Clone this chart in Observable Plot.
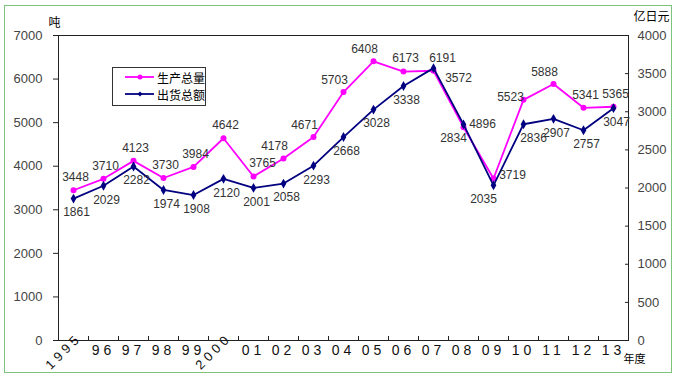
<!DOCTYPE html>
<html><head><meta charset="utf-8">
<script src="https://cdn.jsdelivr.net/npm/d3@7"></script>
<script src="https://cdn.jsdelivr.net/npm/@observablehq/plot@0.6"></script>
<style>
body{margin:0;background:#fff;}
#wrap{position:relative;width:677px;height:378px;font-family:"Liberation Sans",Arial,sans-serif;}
#border{position:absolute;left:4px;top:5px;width:668px;height:368px;border:1.5px solid #7cc47c;box-sizing:border-box;pointer-events:none}
#legend{position:absolute;left:112px;top:67px;width:94px;height:39px;border:1px solid #333;background:#fff;box-sizing:border-box;font-family:"Noto Sans CJK SC",sans-serif;font-size:12px;color:#000}
#legend .row{position:absolute;left:11px;height:16px;display:flex;align-items:center;white-space:nowrap}
#legend svg{display:block;margin-right:3px}
svg g[aria-label="x-axis tick label"] text{letter-spacing:4px}
</style></head>
<body>
<div id="wrap"><div id="chart"></div>
<div id="legend"></div>
<div id="border"></div></div>
<script>
const years = d3.range(1995, 2014);
const xLabels = ["1995","96","97","98","99","2000","01","02","03","04","05","06","07","08","09","10","11","12","13"];
const production = [3448,3710,4123,3730,3984,4642,3765,4178,4671,5703,6408,6173,6191,4896,3719,5523,5888,5341,5365];
const shipments = [1861,2029,2282,1974,1908,2120,2001,2058,2293,2668,3028,3338,3572,2834,2035,2836,2907,2757,3047];
const seriesNames = ["生产总量","出货总额"];
const leftTicks = d3.range(0, 7001, 1000);
const rightTicks = d3.range(0, 4001, 500);

const ratio = 7000 / 4000;
const data = years.map((y, i) => ({year: y, label: xLabels[i], prod: production[i], ship: shipments[i], shipY: shipments[i] * ratio}));
const MAG = "#ff00ff", NAVY = "#000080";

function labels(field, yField, ys, dx, dy) {
  return Plot.text(data.filter(d => ys.includes(d.year)), {
    x: "year", y: yField, text: d => String(d[field]), dx, dy,
    fontSize: 12, fill: "#333", fontFamily: "Liberation Sans, Arial, sans-serif"
  });
}

const chart = Plot.plot({
  width: 677, height: 378,
  marginLeft: 58, marginRight: 49, marginTop: 35, marginBottom: 38,
  style: {background: "transparent", fontFamily: "Liberation Sans, Arial, sans-serif", overflow: "visible"},
  x: {domain: [1994.5, 2013.5]},
  y: {domain: [0, 7000]},
  marks: [
    Plot.frame({stroke: "#222"}),
    Plot.axisY({anchor: "left", ticks: leftTicks, tickFormat: d => String(d), tickSize: 5, tickPadding: 11, fontSize: 13, fill: "#444", stroke: "#222", label: null}),
    Plot.axisY({anchor: "right", ticks: rightTicks.map(v => v * ratio), tickFormat: d => String(Math.round(d / ratio)), tickSize: 0, tickPadding: 9, fontSize: 13, fill: "#444", label: null}),
    Plot.axisY({anchor: "right", ticks: rightTicks.map(v => v * ratio), tickSize: 4, text: null, dx: -4, stroke: "#222", label: null}),
    Plot.axisX({ticks: d3.range(1995.5, 2013, 1), tickSize: 4, text: null, dy: -4, stroke: "#222", label: null}),
    Plot.axisX({ticks: years.filter(y => y !== 1995 && y !== 2000), tickFormat: d => xLabels[years.indexOf(d)], tickSize: 0, tickPadding: 5, fontSize: 14, fill: "#111", label: null}),
    Plot.axisX({ticks: [1995, 2000], tickFormat: d => xLabels[years.indexOf(d)], tickSize: 0, tickPadding: 0, tickRotate: -45, fontSize: 13, fill: "#111", label: null, dx: 6, dy: -5}),
    Plot.text(["吨"], {text: d => d, frameAnchor: "top-left", textAnchor: "start", lineAnchor: "top", dx: -10, dy: -17, fontSize: 12, fill: "#000", fontFamily: "Noto Sans CJK SC"}),
    Plot.text(["亿日元"], {text: d => d, frameAnchor: "top-right", textAnchor: "start", lineAnchor: "top", dx: 5, dy: -23, fontSize: 12, fill: "#000", fontFamily: "Noto Sans CJK SC"}),
    Plot.text(["年度"], {text: d => d, frameAnchor: "bottom-right", textAnchor: "start", lineAnchor: "top", dx: -5, dy: 15, fontSize: 11, fill: "#000", fontFamily: "Noto Sans CJK SC"}),
    Plot.line(data, {x: "year", y: "prod", stroke: MAG, strokeWidth: 1.8}),
    Plot.dot(data, {x: "year", y: "prod", r: 3, fill: MAG, stroke: "none"}),
    Plot.line(data, {x: "year", y: "shipY", stroke: NAVY, strokeWidth: 1.8}),
    Plot.dot(data, {x: "year", y: "shipY", r: 3, symbol: "diamond", fill: NAVY, stroke: "none"}),
    labels("prod", "prod", [1995,1996,1997,1998,1999,2000,2006,2012,2013], 2, -13),
    labels("prod", "prod", [2002,2003,2004,2005,2011], -9, -12),
    labels("prod", "prod", [2001,2007], 9, -13),
    labels("prod", "prod", [2008,2009], 19, -3),
    labels("prod", "prod", [2010], -13, -3),
    labels("ship", "shipY", [1995,1996,1997,1998,1999,2000,2001,2002,2003,2004,2005,2006,2011,2012,2013], 3, 14),
    labels("ship", "shipY", [2007], 25, 10),
    labels("ship", "shipY", [2008,2009], -10, 14),
    labels("ship", "shipY", [2010], 10, 14)
  ]
});
document.getElementById("chart").appendChild(chart);

const lg = document.getElementById("legend");
[[MAG, "circle"], [NAVY, "diamond"]].forEach(([c, s], i) => {
  const row = document.createElement("div");
  row.className = "row";
  row.style.top = (i === 0 ? 1 : 18) + "px";
  const mk = s === "circle" ? `<circle cx="16" cy="6" r="2.5" fill="${c}"/>` : `<path d="M16 3.5L18.5 6L16 8.5L13.5 6Z" fill="${c}"/>`;
  row.innerHTML = `<svg width="30" height="12"><line x1="1" x2="30" y1="6" y2="6" stroke="${c}" stroke-width="1.8"/>${mk}</svg><span>${seriesNames[i]}</span>`;
  lg.appendChild(row);
});
</script>
</body></html>
